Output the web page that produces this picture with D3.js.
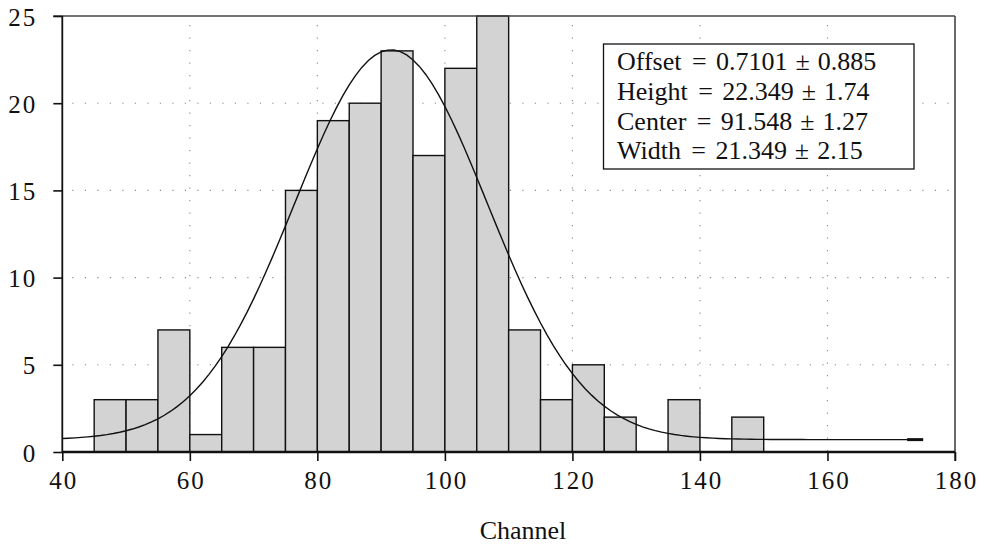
<!DOCTYPE html>
<html>
<head>
<meta charset="utf-8">
<script src="https://cdn.jsdelivr.net/npm/d3@7"></script>
<style>
  html, body { margin: 0; padding: 0; background: #fff; }
  svg { display: block; }
  svg text { font-family: "Liberation Serif", "Times New Roman", Times, "DejaVu Serif", serif; fill: #111; }
</style>
</head>
<body>
<svg id="chart" width="986" height="546"></svg>
<script>
// Histogram bins (lower edge of each 5-channel bin) and counts
const binStarts = [45, 50, 55, 60, 65, 70, 75, 80, 85, 90, 95, 100, 105, 110, 115, 120, 125, 130, 135, 140, 145];
const counts    = [3, 3, 7, 1, 6, 6, 15, 19, 20, 23, 17, 22, 25, 7, 3, 5, 2, 0, 3, 0, 2];
const binWidth = 5;

// Gaussian fit parameters
const fitNames  = ["Offset", "Height", "Center", "Width"];
const fitValues = ["0.7101", "22.349", "91.548", "21.349"];
const fitErrors = ["0.885", "1.74", "1.27", "2.15"];
const fitRange = [40, 175];

const xTicks = [40, 60, 80, 100, 120, 140, 160, 180];
const yTicks = [0, 5, 10, 15, 20, 25];
const xLabel = "Channel";

const svg = d3.select("#chart");
const L = 62.3, R = 955, T = 16, B = 452;

const x = d3.scaleLinear().domain([40, 180]).range([L, R]);
const y = d3.scaleLinear().domain([0, 25]).range([B, T]);

// dotted grid
const grid = svg.append("g")
  .attr("stroke", "#8a8a8a").attr("stroke-width", 1.1)
  .attr("stroke-dasharray", "1.2 11.3");
grid.selectAll("line.h").data(yTicks.filter(v => v > 0 && v < 25)).join("line")
  .attr("class", "h")
  .attr("x1", L + 10).attr("x2", R).attr("y1", d => y(d)).attr("y2", d => y(d));
grid.selectAll("line.v").data(xTicks.filter(v => v > 40 && v < 180)).join("line")
  .attr("class", "v")
  .attr("y1", T + 9).attr("y2", B).attr("x1", d => x(d)).attr("x2", d => x(d));

// bars
svg.append("g").selectAll("rect").data(binStarts.map((s, i) => ({ s, c: counts[i] })).filter(d => d.c > 0))
  .join("rect")
  .attr("x", d => x(d.s))
  .attr("width", d => x(d.s + binWidth) - x(d.s))
  .attr("y", d => y(d.c))
  .attr("height", d => y(0) - y(d.c))
  .attr("fill", "#d3d3d3")
  .attr("stroke", "#111")
  .attr("stroke-width", 1.4);

// fitted curve: offset + height * exp(-((x - center)/width)^2)
const off = +fitValues[0], hgt = +fitValues[1], ctr = +fitValues[2], wid = +fitValues[3];
const fitF = v => off + hgt * Math.exp(-Math.pow((v - ctr) / wid, 2));
const xs = d3.range(fitRange[0], fitRange[1] + 0.001, 1);
const line = d3.line().x(d => x(d)).y(d => y(fitF(d)));
svg.append("path").datum(xs)
  .attr("d", line).attr("fill", "none").attr("stroke", "#111").attr("stroke-width", 1.4);
svg.append("path").datum([172.5, fitRange[1]])
  .attr("d", line).attr("fill", "none").attr("stroke", "#111").attr("stroke-width", 3);

// frame: top and right
svg.append("line").attr("x1", L - 9).attr("x2", R).attr("y1", T).attr("y2", T)
  .attr("stroke", "#444").attr("stroke-width", 1.6);
svg.append("line").attr("x1", R).attr("x2", R).attr("y1", T).attr("y2", B + 9)
  .attr("stroke", "#444").attr("stroke-width", 1.6);

// axes
const xAxis = svg.append("g").attr("transform", `translate(0,${B})`)
  .call(d3.axisBottom(x).tickValues(xTicks).tickSize(9).tickPadding(4).tickFormat(d3.format("d")));
const yAxis = svg.append("g").attr("transform", `translate(${L},0)`)
  .call(d3.axisLeft(y).tickValues(yTicks).tickSize(9).tickPadding(16).tickFormat(d3.format("d")));
[xAxis, yAxis].forEach(g => {
  g.attr("font-family", null);
  g.selectAll(".tick line").attr("stroke", "#111").attr("stroke-width", 1.6);
  g.selectAll(".tick text")
    .attr("font-size", 25).attr("letter-spacing", 2).attr("fill", "#111");
});
xAxis.select(".domain").attr("d", `M${L},0H${R}`).attr("stroke", "#111").attr("stroke-width", 2.4);
yAxis.select(".domain").attr("d", `M0,${B}V${T}`).attr("stroke", "#111").attr("stroke-width", 1.8);
xAxis.selectAll(".tick text").attr("dy", null).attr("y", 37).attr("dx", 1);
yAxis.selectAll(".tick text").attr("dy", null).attr("y", 9);

// axis title
svg.append("text").attr("x", 523).attr("y", 539).attr("text-anchor", "middle")
  .attr("font-size", 26).text(xLabel);

// fit parameter box
const boxX = 603.5, boxY = 44, boxW = 310.5, boxH = 125;
svg.append("rect").attr("x", boxX).attr("y", boxY).attr("width", boxW).attr("height", boxH)
  .attr("fill", "#fff").attr("stroke", "#111").attr("stroke-width", 1.3);

const fs = 26;
const rows = svg.append("g").attr("font-size", fs);
fitNames.forEach((name, i) => {
  const base = 70 + i * 29.8;
  let cx = 617;
  const put = (txt, anchor = "start") => rows.append("text").attr("x", cx).attr("y", base)
    .attr("text-anchor", anchor).text(txt);
  const t1 = put(name);
  cx += t1.node().getComputedTextLength() + 0.4 * fs + 0.282 * fs;
  put("=", "middle"); cx += 0.282 * fs + 0.36 * fs;
  const t3 = put(fitValues[i]);
  cx += t3.node().getComputedTextLength() + 0.3 * fs + 0.282 * fs;
  put("\u00b1", "middle"); cx += 0.282 * fs + 0.3 * fs;
  put(fitErrors[i]);
});
</script>
</body>
</html>
